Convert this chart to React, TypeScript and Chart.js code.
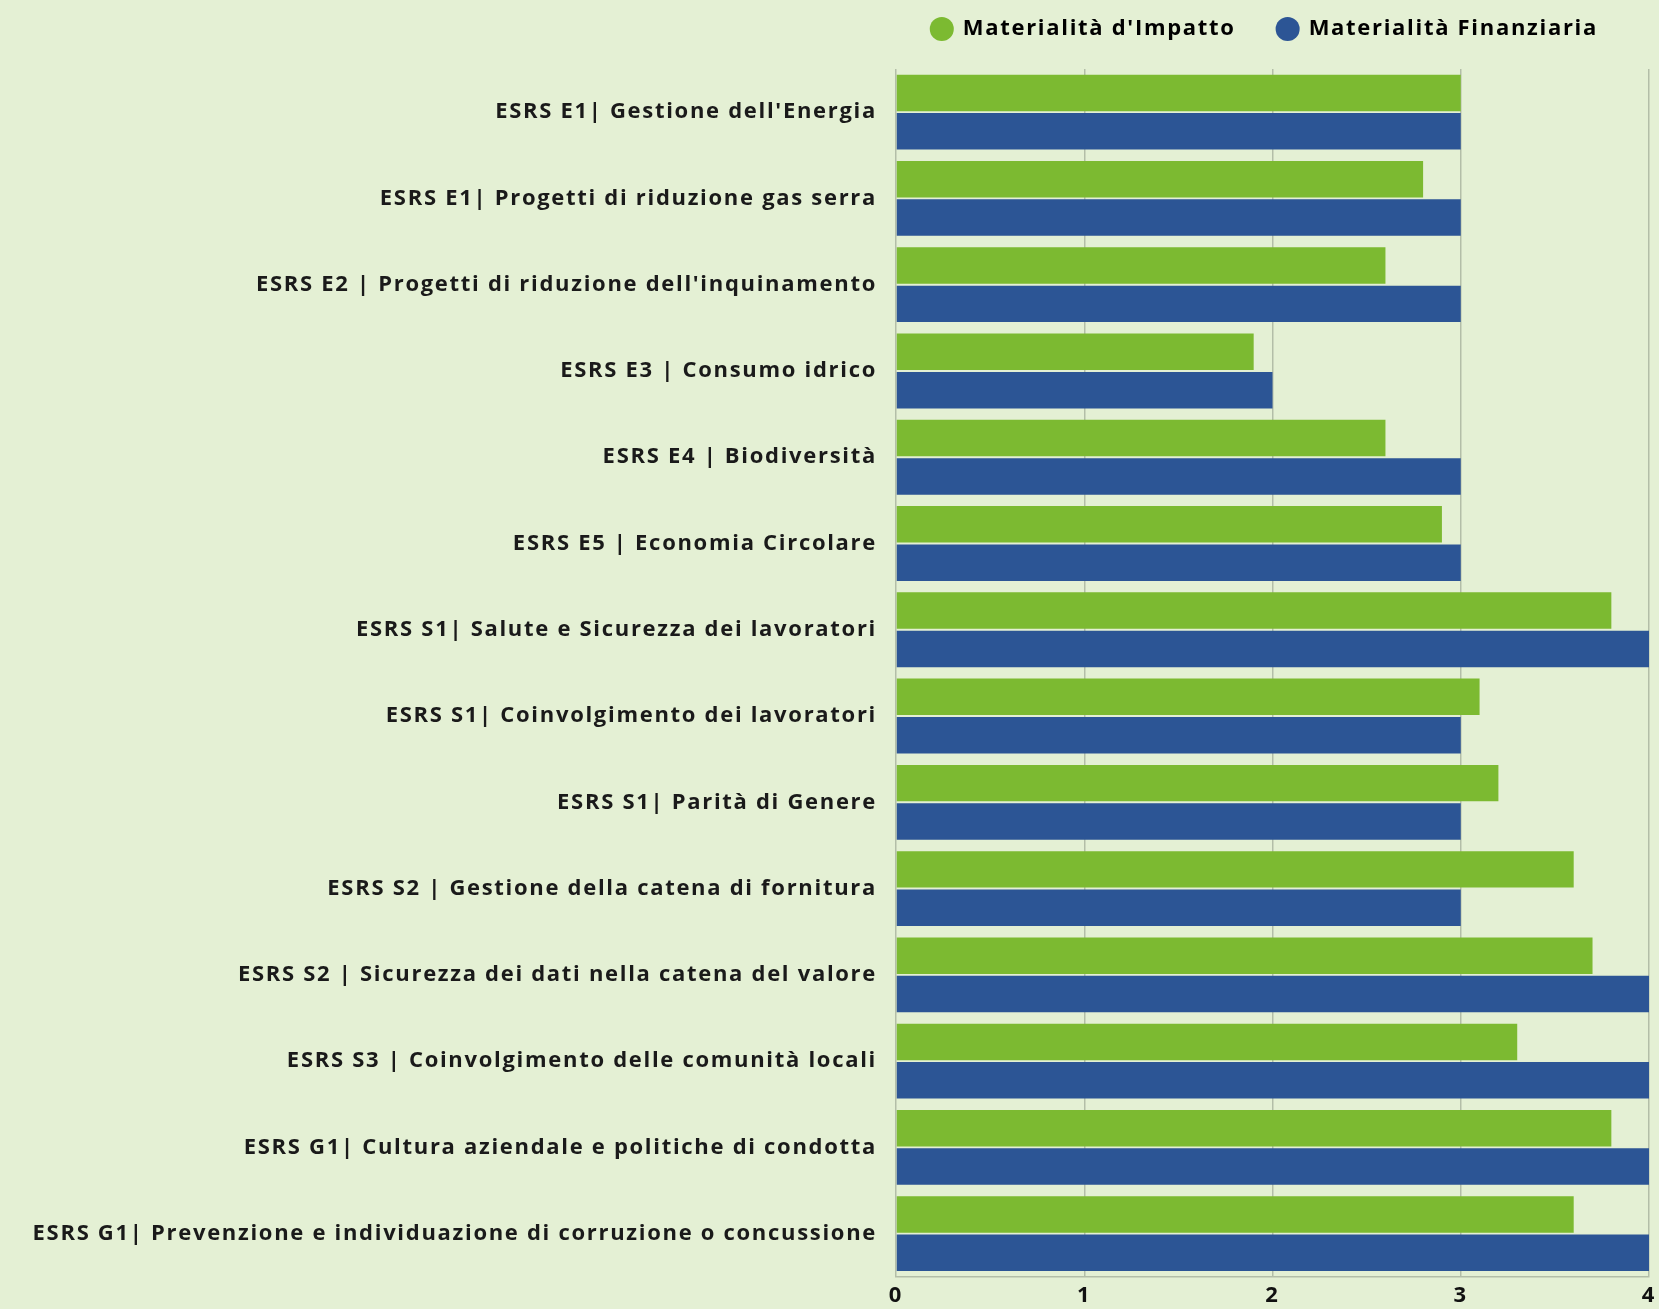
import React, { useEffect, useRef } from "react";
import { Chart, registerables } from "chart.js";

Chart.register(...registerables);

const categories = [
  "ESRS E1| Gestione dell'Energia",
  "ESRS E1| Progetti di riduzione gas serra",
  "ESRS E2 | Progetti di riduzione dell'inquinamento",
  "ESRS E3 | Consumo idrico",
  "ESRS E4 | Biodiversità",
  "ESRS E5 | Economia Circolare",
  "ESRS S1| Salute e Sicurezza dei lavoratori",
  "ESRS S1| Coinvolgimento dei lavoratori",
  "ESRS S1| Parità di Genere",
  "ESRS S2 | Gestione della catena di fornitura",
  "ESRS S2 | Sicurezza dei dati nella catena del valore",
  "ESRS S3 | Coinvolgimento delle comunità locali",
  "ESRS G1| Cultura aziendale e politiche di condotta",
  "ESRS G1| Prevenzione e individuazione di corruzione o concussione",
];

const impatto = [3.0, 2.8, 2.6, 1.9, 2.6, 2.9, 3.8, 3.1, 3.2, 3.6, 3.7, 3.3, 3.8, 3.6];
const finanziaria = [3, 3, 3, 2, 3, 3, 4, 3, 3, 3, 4, 4, 4, 4];

const seriesNames = ["Materialità d'Impatto", "Materialità Finanziaria"];
const xTicks = [0, 1, 2, 3, 4];

const FONT = "'Open Sans', sans-serif";
const SPACING = "1.7px";

const styleHelper = {
  id: "styleHelper",
  beforeUpdate(chart: any) {
    (chart.ctx as any).letterSpacing = SPACING;
  },
  beforeDraw(chart: any) {
    (chart.ctx as any).letterSpacing = SPACING;
  },
  afterLayout(chart: any) {
    const lg = chart.legend;
    if (!lg) return;
    lg.right -= 19;
    lg.top = -24;
  },
};

export default function App() {
  const ref = useRef<HTMLCanvasElement | null>(null);

  useEffect(() => {
    if (!ref.current) return;
    const chart = new Chart(ref.current, {
      type: "bar",
      data: {
        labels: categories,
        datasets: [
          {
            label: seriesNames[0],
            data: impatto,
            backgroundColor: "#7cba31",
            categoryPercentage: 0.89,
            barPercentage: 0.95,
          },
          {
            label: seriesNames[1],
            data: finanziaria,
            backgroundColor: "#2c5595",
            categoryPercentage: 0.89,
            barPercentage: 0.95,
          },
        ],
      },
      options: {
        indexAxis: "y",
        animation: false,
        responsive: false,
        maintainAspectRatio: false,
        layout: { padding: { top: 9, right: 0, left: 0, bottom: 0 } },
        plugins: {
          legend: {
            position: "top",
            align: "end",
            maxHeight: 60,
            labels: {
              usePointStyle: true,
              pointStyle: "circle",
              boxWidth: 20,
              boxHeight: 17,
              padding: 42,
              color: "#1a1a1a",
              font: { family: FONT, size: 22, weight: "700" },
              generateLabels: (chart: any) =>
                chart.data.datasets.map((ds: any, i: number) => ({
                  text: ds.label,
                  fillStyle: ds.backgroundColor,
                  strokeStyle: ds.backgroundColor,
                  lineWidth: 0,
                  pointStyle: "circle",
                  datasetIndex: i,
                  hidden: false,
                })),
            },
          },
          tooltip: { enabled: false },
        },
        scales: {
          x: {
            min: 0,
            max: 4,
            afterBuildTicks: (scale: any) => {
              scale.ticks = xTicks.map((v) => ({ value: v }));
            },
            afterFit: (scale: any) => {
              scale.height = 28;
              scale.paddingRight = 10;
            },
            grid: {
              color: "#b3bea8",
              lineWidth: 1.5,
              drawTicks: false,
            },
            border: { display: true, color: "#b3bea8", width: 1.5 },
            ticks: {
              color: "#111",
              padding: 6,
              font: { family: FONT, size: 22, weight: "700" },
            },
          },
          y: {
            grid: { display: false, drawTicks: false },
            border: { display: false },
            afterFit: (scale: any) => {
              scale.width = 896;
            },
            ticks: {
              color: "#1a1a1a",
              padding: 19,
              font: { family: FONT, size: 22, weight: "700" },
            },
          },
        },
      },
      plugins: [styleHelper],
    });
    return () => chart.destroy();
  }, []);

  return (
    <div
      style={{
        position: "fixed",
        left: 0,
        top: 0,
        width: 1659,
        height: 1309,
        background: "#e4f0d4",
      }}
    >
      <canvas ref={ref} width={1659} height={1309} style={{ display: "block" }} />
    </div>
  );
}
